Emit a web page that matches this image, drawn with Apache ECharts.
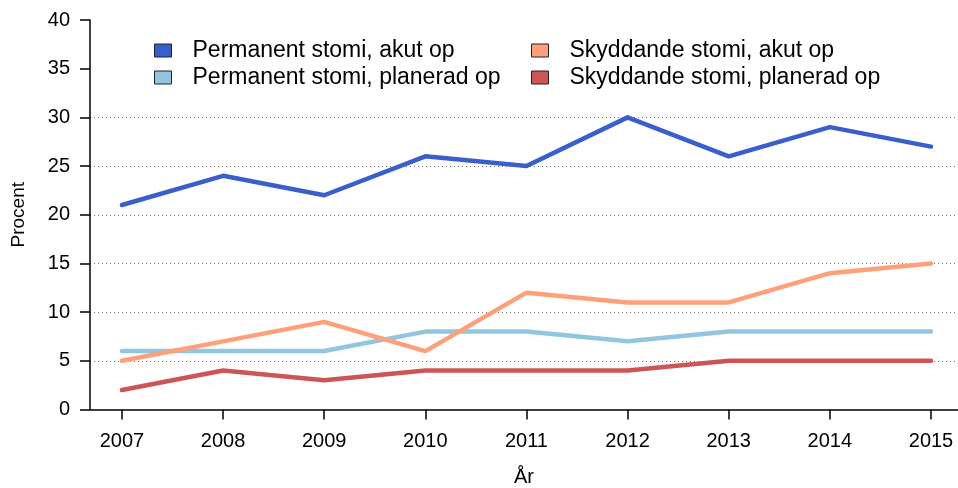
<!DOCTYPE html>
<html>
<head>
<meta charset="utf-8">
<title>Stomi per år</title>
<script src="https://cdn.jsdelivr.net/npm/echarts@6/dist/echarts.min.js"></script>
<style>
  html, body { margin: 0; padding: 0; background: #fff; }
  #chart { width: 958px; height: 488px; }
</style>
</head>
<body>
<div id="chart"></div>
<script>
  const years = [2007, 2008, 2009, 2010, 2011, 2012, 2013, 2014, 2015]
  const seriesNames = [
    'Permanent stomi, akut op',
    'Permanent stomi, planerad op',
    'Skyddande stomi, akut op',
    'Skyddande stomi, planerad op',
  ]
  const permAkut = [21, 24, 22, 26, 25, 30, 26, 29, 27]
  const permPlanerad = [6, 6, 6, 8, 8, 7, 8, 8, 8]
  const skyddAkut = [5, 7, 9, 6, 12, 11, 11, 14, 15]
  const skyddPlanerad = [2, 4, 3, 4, 4, 4, 5, 5, 5]
  const colors = ['#3a5fcd', '#92c5de', '#ffa07a', '#cd5555']

  const font = '"Liberation Sans", Arial, Helvetica, sans-serif'
  const allValues = [permAkut, permPlanerad, skyddAkut, skyddPlanerad]

  // grid lines only for 5..30 (0 is the axis, 35/40 sit under the legend)
  const none = 'rgba(0,0,0,0)'
  const gridColors = [none, '#777', '#777', '#777', '#777', '#777', '#777', none, none]

  const legendBase = {
    orient: 'vertical',
    top: 34,
    icon: 'rect',
    itemWidth: 17,
    itemHeight: 13,
    itemGap: 4,
    itemStyle: { borderColor: '#222', borderWidth: 1 },
    textStyle: { fontFamily: font, fontSize: 23, color: '#000', padding: [0, 0, 0, 16] },
  }

  const chart = echarts.init(document.getElementById('chart'), null, { renderer: 'canvas' })
  const option = {
    backgroundColor: '#fff',
    animation: false,
    color: colors,
    grid: { left: 90, right: 0, top: 20, bottom: 78.5, containLabel: false, outerBoundsMode: 'none' },
    legend: [
      Object.assign({}, legendBase, { left: 149, data: [seriesNames[0], seriesNames[1]] }),
      Object.assign({}, legendBase, { left: 526, data: [seriesNames[2], seriesNames[3]] }),
    ],
    xAxis: {
      type: 'value',
      min: 2006.684,
      max: 2015.267,
      name: 'År',
      nameLocation: 'middle',
      nameGap: 58,
      nameTextStyle: { fontFamily: font, fontSize: 20, color: '#000' },
      axisLine: { show: true, lineStyle: { color: '#000', width: 1.5 } },
      axisTick: { show: true, length: 10, customValues: years, lineStyle: { color: '#000', width: 1.5 } },
      axisLabel: { customValues: years, margin: 22, fontFamily: font, fontSize: 20, color: '#000', formatter: v => String(v) },
      splitLine: { show: false },
    },
    yAxis: {
      type: 'value',
      min: 0,
      max: 40,
      interval: 5,
      name: 'Procent',
      nameLocation: 'middle',
      nameRotate: 90,
      nameGap: 62,
      nameTextStyle: { fontFamily: font, fontSize: 19, color: '#000' },
      axisLine: { show: true, lineStyle: { color: '#000', width: 1.5 } },
      axisTick: { show: true, length: 10, lineStyle: { color: '#000', width: 1.5 } },
      axisLabel: { margin: 20, fontFamily: font, fontSize: 20, color: '#000' },
      splitLine: { show: true, lineStyle: { color: gridColors, type: [1, 3], width: 1 } },
    },
    series: seriesNames.map((name, i) => ({
      name: name,
      type: 'line',
      symbol: 'none',
      data: years.map((y, j) => [y, allValues[i][j]]),
      lineStyle: { width: 4.5, color: colors[i], cap: 'round', join: 'round' },
      itemStyle: { color: colors[i] },
    })),
  }
  chart.setOption(option)
</script>
</body>
</html>
